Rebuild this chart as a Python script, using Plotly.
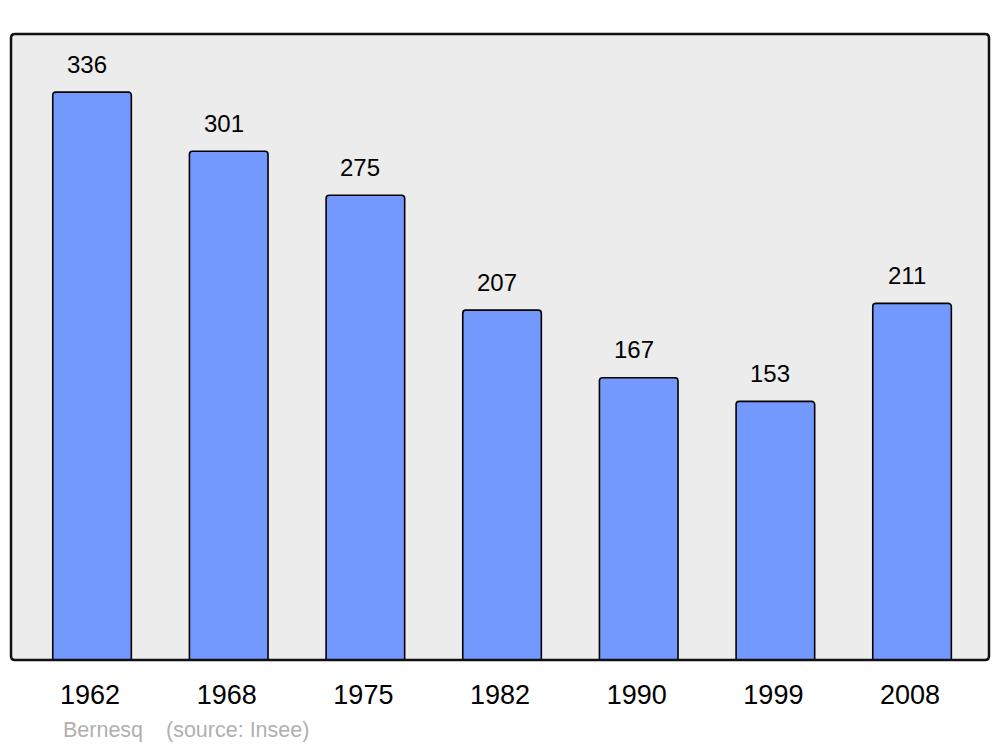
import plotly.graph_objects as go

years = ["1962", "1968", "1975", "1982", "1990", "1999", "2008"]
population = [336, 301, 275, 207, 167, 153, 211]
footer_name = "Bernesq"
footer_source = "(source: Insee)"

xs = list(range(len(years)))

fig = go.Figure()
fig.add_trace(go.Bar(
    x=xs, y=population, width=0.575,
    marker=dict(color="#7399ff", line=dict(color="#000000", width=1.6), cornerradius=3),
    hoverinfo="skip",
))

for i, v in enumerate(population):
    fig.add_annotation(x=xs[i], y=v, text=str(v), showarrow=False,
                       yanchor="middle", yshift=28, xshift=-5,
                       font=dict(family="Liberation Sans, Arial", size=24, color="#000000"))

footer_font = dict(family="Liberation Sans, Arial", size=21.5, color="#b0b0b0")
fy = -(730 - 660) / 626
fig.add_annotation(xref="paper", yref="paper", x=(61 - 11) / 978, y=fy,
                   text=footer_name, showarrow=False, xanchor="left", yanchor="middle",
                   font=footer_font)
fig.add_annotation(xref="paper", yref="paper", x=(164 - 11) / 978, y=fy,
                   text=footer_source, showarrow=False, xanchor="left", yanchor="middle",
                   font=footer_font)

# rounded frame around plot area
rx, ry = 4 / 978, 4 / 626
path = (f"M {rx},0 L {1-rx},0 Q 1,0 1,{ry} L 1,{1-ry} Q 1,1 {1-rx},1 "
        f"L {rx},1 Q 0,1 0,{1-ry} L 0,{ry} Q 0,0 {rx},0 Z")
fig.add_shape(type="path", xref="paper", yref="paper", path=path,
              line=dict(color="#111111", width=2.5), layer="above")

fig.update_layout(
    width=1000, height=747,
    margin=dict(l=11, r=11, t=34, b=87),
    paper_bgcolor="#ffffff", plot_bgcolor="#ececec",
    showlegend=False,
    xaxis=dict(range=[-0.593, 6.563], tickmode="array", tickvals=xs, ticktext=years,
               showgrid=False, zeroline=False, ticks="", showline=False,
               tickfont=dict(family="Liberation Sans, Arial", size=27, color="#000000"),
               ticklabelstandoff=16, ticklabelshift=-2),
    yaxis=dict(range=[0, 370.4], showgrid=False, zeroline=False, showticklabels=False,
               showline=False, ticks=""),
    font=dict(family="Liberation Sans, Arial"),
)

fig.write_html("out.html", config={"displayModeBar": False},
               post_script="document.body.style.margin='0';document.body.style.overflow='hidden';")
